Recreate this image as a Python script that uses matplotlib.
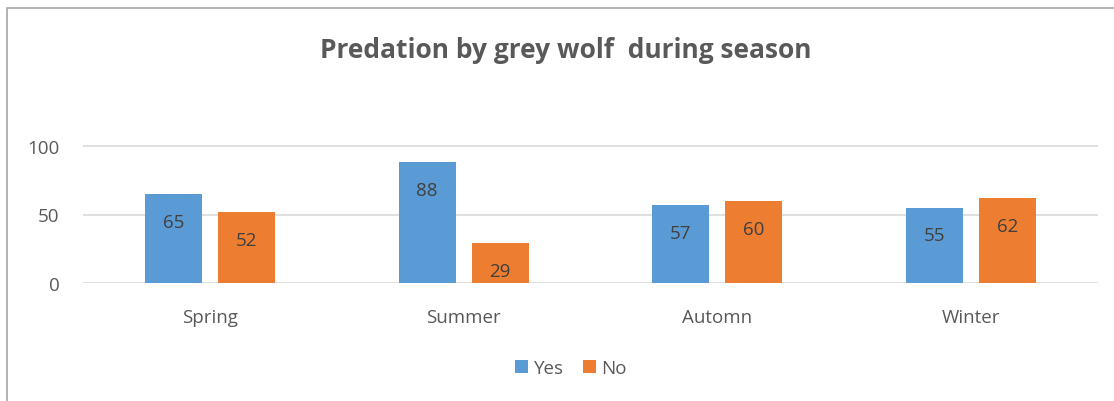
import numpy as np
import matplotlib.pyplot as plt
from matplotlib.patches import Rectangle

seasons = ['Spring', 'Summer', 'Automn', 'Winter']
yes_vals = [65, 88, 57, 55]
no_vals = [52, 29, 60, 62]
series_names = ['Yes', 'No']
yticks = [0, 50, 100]

blue = '#5B9BD5'
orange = '#ED7D31'
txt = '#595959'

plt.rcParams['font.family'] = ['Open Sans', 'DejaVu Sans']

W, H = 1114, 402
fig = plt.figure(figsize=(W / 100, H / 100), dpi=100)

# plot area: y=0 at px 284, y=100 at px 147
ymin_px, y100_px = 284, 147
ylim_top = 100 * (ymin_px - 80) / (ymin_px - y100_px)
ax = fig.add_axes([83 / W, 1 - ymin_px / H, (1098 - 83) / W, (ymin_px - 80) / H])
ax.set_ylim(0, ylim_top)
ax.set_xlim(-0.5, 3.5)

x = np.arange(len(seasons))
bw = 0.225
off = 0.144
b1 = ax.bar(x - off, yes_vals, bw, color=blue, label=series_names[0], zorder=3)
b2 = ax.bar(x + off, no_vals, bw, color=orange, label=series_names[1], zorder=3)

for bars, vals in ((b1, yes_vals), (b2, no_vals)):
    for b, v in zip(bars, vals):
        ax.annotate(str(v), (b.get_x() + b.get_width() / 2, v), xytext=(0, -13.5),
                    textcoords='offset points', ha='center', va='top',
                    fontsize=13.5, color='#404040', zorder=4)

ax.set_yticks(yticks)
ax.set_yticklabels([str(t) for t in yticks], fontsize=13.5, color=txt)
ax.set_xticks(x)
ax.set_xticklabels(seasons, fontsize=13.5, color=txt)
ax.tick_params(length=0)
ax.tick_params(axis='x', pad=18)
ax.tick_params(axis='y', pad=17)
for t in yticks:
    ax.axhline(t, color='#D9D9D9', lw=1.2, zorder=1)
for s in ax.spines.values():
    s.set_visible(False)

fig.text(566 / W, 1 - 51 / H, 'Predation by grey wolf  during season', ha='center',
         va='center', fontsize=19, fontweight='bold', color=txt)

fig.legend(loc='center', bbox_to_anchor=(571 / W, 1 - 369 / H), ncol=2, frameon=False,
           fontsize=13.5, handlelength=0.7, handleheight=0.7, handletextpad=0.3,
           columnspacing=1.0, labelcolor=txt)

fig.patches.append(Rectangle((7 / W, -0.1), 1.2, 1 - 9 / H + 0.1, transform=fig.transFigure,
                             fill=False, edgecolor='#A6A6A6', lw=1.2))

fig.savefig('out.png', dpi=100)
